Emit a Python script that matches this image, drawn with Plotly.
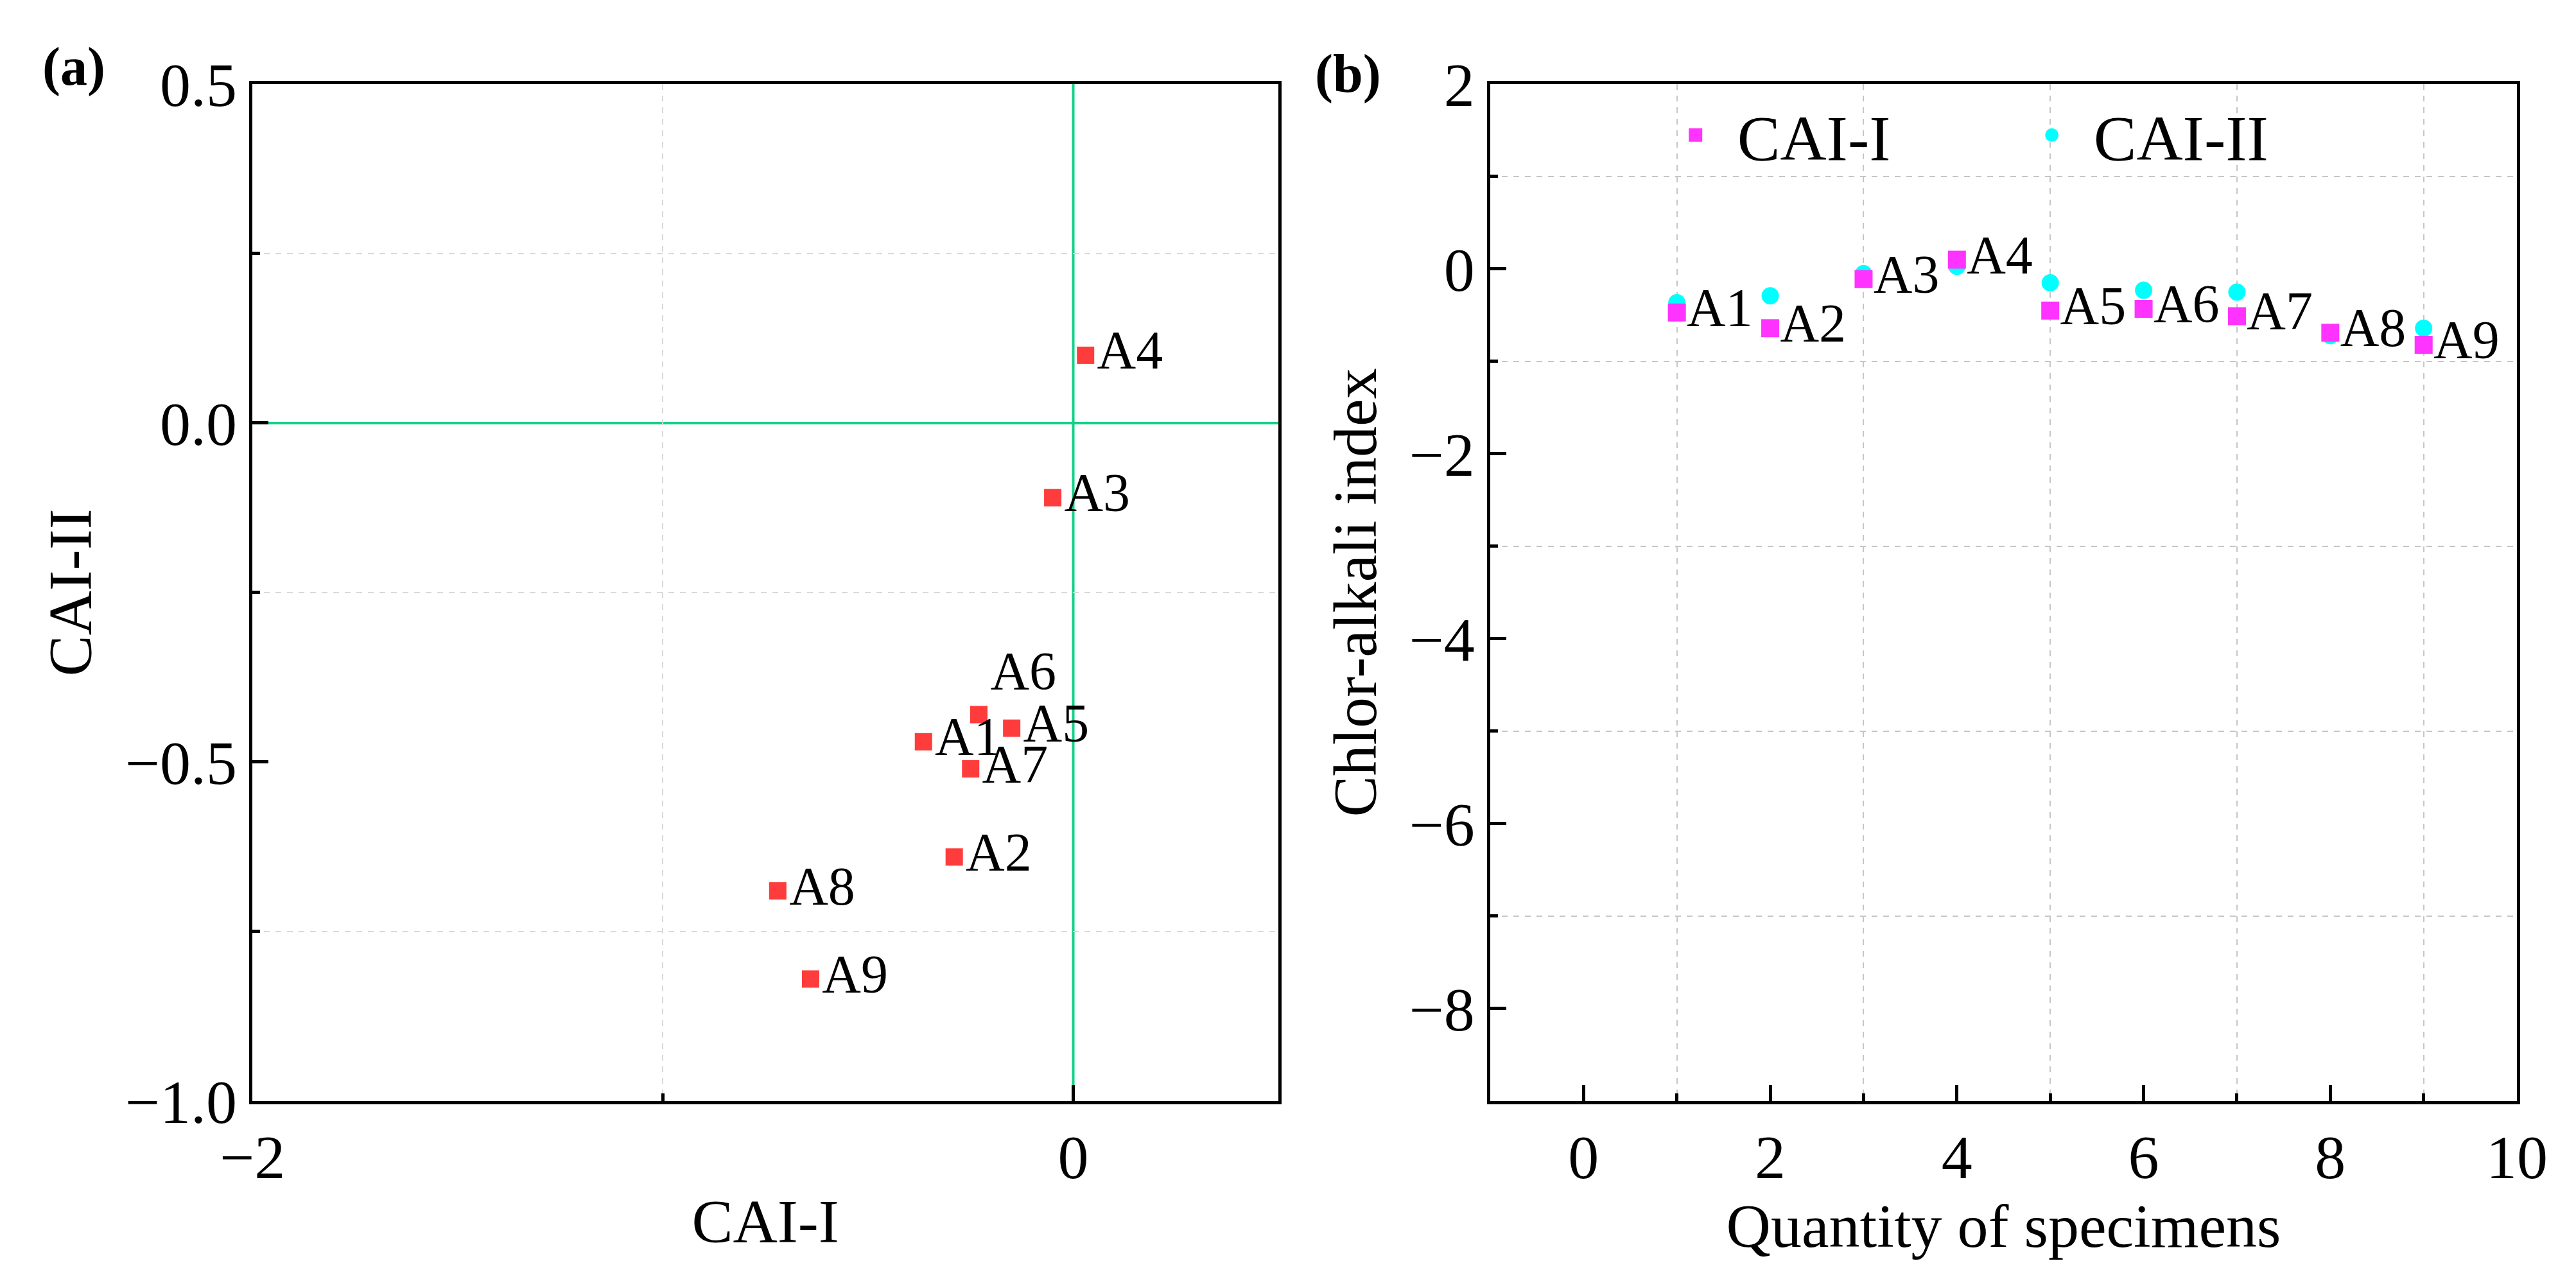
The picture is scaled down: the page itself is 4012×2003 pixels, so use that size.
import plotly.graph_objects as go

# %% data
specimens = ["A1", "A2", "A3", "A4", "A5", "A6", "A7", "A8", "A9"]
specimen_no = [1, 2, 3, 4, 5, 6, 7, 8, 9]
cai_1 = [-0.47, -0.64, -0.11, 0.10, -0.45, -0.43, -0.51, -0.69, -0.82]
cai_2 = [-0.365, -0.29, -0.05, 0.03, -0.15, -0.23, -0.25, -0.72, -0.64]
label_pos_a = ["middle right", "middle right", "middle right", "middle right",
               "middle right", "top right", "middle right", "middle right", "middle right"]

FONT = "Liberation Serif"
RED, MAGENTA, CYAN, GREEN = "#ff3c3c", "#ff33ff", "#00ffff", "#14d088"

# %% traces
fig = go.Figure()

# panel (a): scatter of the two indices
fig.add_trace(go.Scatter(x=cai_2, y=cai_1, mode="markers+text", text=specimens,
                         textposition=label_pos_a, textfont=dict(size=84, color="black"),
                         marker=dict(symbol="square", size=27, color=RED),
                         xaxis="x", yaxis="y", showlegend=False, cliponaxis=False))

# panel (b): both indices per specimen
# (marker outline in the fill colour so the legend symbol comes out bigger)
fig.add_trace(go.Scatter(x=specimen_no, y=cai_2, mode="markers", name="CAI-II",
                         marker=dict(symbol="circle", size=22, color=CYAN,
                                     line=dict(width=5, color=CYAN)),
                         xaxis="x2", yaxis="y2", legendrank=2, cliponaxis=False))
fig.add_trace(go.Scatter(x=specimen_no, y=cai_1, mode="markers+text", name="CAI-I",
                         text=specimens, textposition="middle right",
                         textfont=dict(size=84, color="black"),
                         marker=dict(symbol="square", size=23, color=MAGENTA,
                                     line=dict(width=5, color=MAGENTA)),
                         xaxis="x2", yaxis="y2", legendrank=1, cliponaxis=False))

# %% axes
common = dict(showline=True, linecolor="black", linewidth=5, mirror=True,
              ticks="inside", tickwidth=5, ticklen=25, tickcolor="black",
              showgrid=False, zeroline=False, automargin=False,
              tickfont=dict(size=96, family=FONT, color="black"),
              title_font=dict(size=96, family=FONT, color="black"))

def minor(dt, color, width):
    return dict(dtick=dt, ticks="inside", ticklen=12, tickwidth=5, tickcolor="black",
                showgrid=True, gridcolor=color, gridwidth=width, griddash="dash")

dom_y = [0.1478, 0.9386]
fig.update_layout(
    xaxis=dict(common, domain=[0.0960, 0.4943], range=[-2, 0.5], tick0=0, dtick=2,
               minor=minor(1, "#d9d9d9", 1.6), anchor="y",
               title=dict(text="CAI-I", standoff=14)),
    yaxis=dict(common, domain=dom_y, range=[-1, 0.5], tick0=0, dtick=0.5,
               tickformat=".1f", minor=minor(0.25, "#d9d9d9", 1.6), anchor="x",
               title=dict(text="CAI-II", standoff=22)),
    xaxis2=dict(common, domain=[0.5765, 0.9751], range=[-1, 10], tick0=0, dtick=2,
                minor=minor(1, "#c6c6c6", 2.2), anchor="y2",
                title=dict(text="Quantity of specimens", standoff=20)),
    yaxis2=dict(common, domain=dom_y, range=[-9, 2], tick0=0, dtick=2,
                minor=minor(1, "#c6c6c6", 2.2), anchor="x2",
                title=dict(text="Chlor-alkali index", standoff=20)),
)

# green reference lines through the origin of panel (a)
fig.add_shape(type="line", xref="x", yref="y domain", x0=0, x1=0, y0=0, y1=1,
              line=dict(color=GREEN, width=4), layer="below")
fig.add_shape(type="line", xref="x domain", yref="y", x0=0, x1=1, y0=0, y1=0,
              line=dict(color=GREEN, width=4), layer="below")

# panel letters
for txt, px_x, px_y in [("(a)", 0.0267, 0.952), ("(b)", 0.5212, 0.9466)]:
    fig.add_annotation(text="<b>%s</b>" % txt, x=px_x, y=px_y, xref="paper", yref="paper",
                       xanchor="center", yanchor="middle", showarrow=False,
                       font=dict(size=84, family=FONT, color="black"))

fig.update_layout(
    width=4012, height=2003,
    margin=dict(l=0, r=0, t=0, b=0, autoexpand=False),
    paper_bgcolor="white", plot_bgcolor="white",
    font=dict(family=FONT, color="black"),
    legend=dict(orientation="h", x=0.640, y=0.899, xanchor="left", yanchor="middle",
                font=dict(size=100, family=FONT), bgcolor="rgba(0,0,0,0)",
                itemwidth=120, entrywidth=420),
)

fig.write_html("out.html")
